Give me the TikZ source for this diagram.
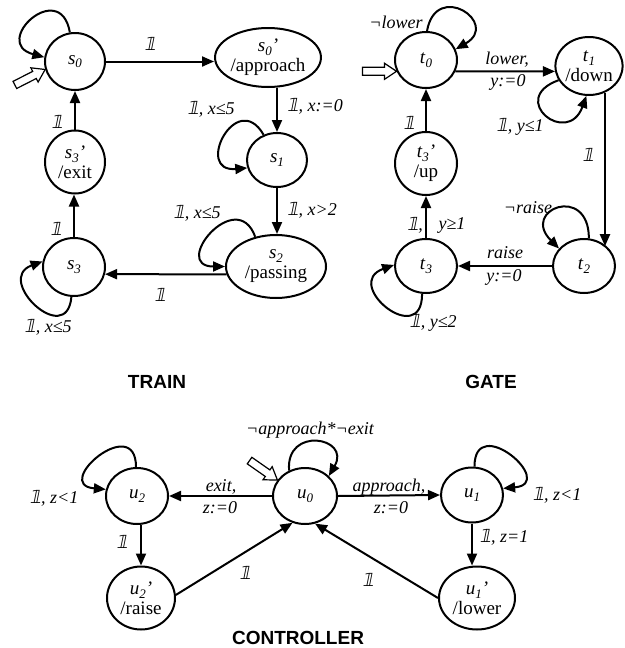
\documentclass[tikz,border=0pt]{standalone}
\usepackage{fontspec}
\setmainfont{Liberation Serif}
\newfontfamily\titlef{Liberation Sans}
\newfontfamily\bbf[FakeSlant=0.2]{DejaVu Sans}
\usetikzlibrary{shapes.geometric,arrows.meta}
\newcommand\one{{\upshape\bbf 𝟙}}
\newcommand\st[2]{\textit{#1}\raisebox{-0.2em}{\fontsize{13}{13}\selectfont\textit{#2}}}
\begin{document}
\begin{tikzpicture}[x=1pt,y=-1pt,
 state/.style={ellipse,draw,line width=2pt,inner sep=0pt,align=center,font=\fontsize{19}{20}\selectfont},
 arr/.style={line width=2pt,-{Triangle[length=12pt,width=10pt]}},
 lbl/.style={font=\itshape\fontsize{18}{18}\selectfont,inner sep=0pt},
 ttl/.style={font=\titlef\bfseries\fontsize{19}{19}\selectfont,inner sep=0pt},
 init/.style={line width=1.2pt,fill=white}]
\useasboundingbox (0,0) rectangle (624,648);
% TRAIN
\node[state,minimum width=60pt,minimum height=57pt] (s0) at (75,61.5) {\st{s}{0}};
\node[state,minimum width=100pt,minimum height=59pt] (s0p) at (268,57.5) {\st{s}{0}\textit{’}\\/approach};
\node[state,minimum width=60pt,minimum height=54pt] (s1) at (277,160) {\st{s}{1}};
\node[state,minimum width=100pt,minimum height=63pt] (s2) at (276,266.5) {\st{s}{2}\\/passing};
\node[state,minimum width=62pt,minimum height=58pt] (s3) at (74,267) {\st{s}{3}};
\node[state,minimum width=60pt,minimum height=63pt] (s3p) at (75,162) {\st{s}{3}\textit{’}\\/exit};
\draw[arr] (s0.east) -- (s0.east -| s0p.west);
\draw[arr] (s1.north |- s0p.south) -- (s1.north);
\draw[arr] (s1.south) -- (s1.south |- s2.north);
\draw[arr] (s2.189) -- (s3.-13);
\draw[arr] (s3.north) -- (s3.north |- s3p.south);
\draw[arr] (s3p.north) -- (s3p.north |- s0.south);
\draw[arr] (s0.100) to[out=100,in=165,distance=56pt] (s0.172);
\draw[arr] (s1.118) to[out=120,in=185,distance=54pt] (s1.195);
\draw[arr] (s2.125) to[out=110,in=180,distance=55pt] (s2.180);
\draw[arr] (s3.265) to[out=265,in=200,distance=52pt] (s3.170);
\draw[init,shift={(s0.195)},rotate=27] (0,0) -- (-12,8) -- (-12,4) -- (-34,4) -- (-34,-4) -- (-12,-4) -- (-12,-8) -- cycle;
\node[lbl] (l1) at (150,44) {\one};
\node[lbl,anchor=west] (l2) at (287,106) {\one, x:=0};
\node[lbl] (l3) at (211,109) {\one, x≤5};
\node[lbl,anchor=west] (l4) at (287,210) {\one, x>2};
\node[lbl] (l5) at (197,213) {\one, x≤5};
\node[lbl] (l6) at (160,295) {\one};
\node[lbl] (l7) at (48,327) {\one, x≤5};
\node[lbl] (l8) at (56,229) {\one};
\node[lbl] (l9) at (57,122) {\one};
\node[ttl] (train) at (157,382) {TRAIN};
% GATE
\node[state,minimum width=62pt,minimum height=56pt] (t0) at (426,60) {\st{t}{0}};
\node[state,minimum width=62pt,minimum height=58pt] (t1) at (589,66) {\st{t}{1}\\/down};
\node[state,minimum width=62pt,minimum height=54pt] (t2) at (584,266) {\st{t}{2}};
\node[state,minimum width=62pt,minimum height=54pt] (t3) at (426,266) {\st{t}{3}};
\node[state,minimum width=62pt,minimum height=63pt] (t3p) at (426,163.5) {\st{t}{3}\textit{’}\\/up};
\draw[arr] (t0.-21) -- (t1.189);
\draw[arr] (t1.-59) -- (t1.-59 |- t2.north east);
\draw[arr] (t2.west) -- (t3.east);
\draw[arr] (t3.north) -- (t3p.south);
\draw[arr] (t3p.north) -- (t0.south);
\draw[arr] (t0.88) to[out=80,in=30,distance=52pt] (t0.20);
\draw[arr] (t1.205) to[out=200,in=250,distance=55pt] (t1.265);
\draw[arr] (t2.80) to[out=90,in=135,distance=55pt] (t2.145);
\draw[arr] (t3.262) to[out=270,in=200,distance=56pt] (t3.178);
\draw[init,shift={(t0.201)}] (0,0) -- (-12,8) -- (-12,4) -- (-34,4) -- (-34,-4) -- (-12,-4) -- (-12,-8) -- cycle;
\node[lbl] (m1) at (396,22) {¬lower};
\node[lbl] (m2) at (507,60) {lower,};
\node[lbl] (m3) at (508,82) {y:=0};
\node[lbl] (m4) at (520,127) {\one, y≤1};
\node[lbl] (m5) at (588,155) {\one};
\node[lbl] (m6) at (528,208) {¬raise};
\node[lbl] (m7) at (505,253) {raise};
\node[lbl] (m8) at (504,277) {y:=0};
\node[lbl] (m9) at (433,323) {\one, y≤2};
\node[lbl] (m10) at (415,225) {\one,};
\node[lbl] (m11) at (452,225) {y≥1};
\node[lbl] (m12) at (409,123) {\one};
\node[ttl] (gate) at (491,382) {GATE};
% CONTROLLER
\node[state,minimum width=64pt,minimum height=56pt] (u0) at (305,496) {\st{u}{0}};
\node[state,minimum width=62pt,minimum height=55pt] (u1) at (472,495) {\st{u}{1}};
\node[state,minimum width=62pt,minimum height=56pt] (u2) at (137,496) {\st{u}{2}};
\node[state,minimum width=68pt,minimum height=63pt] (u2p) at (141,598) {\st{u}{2}\textit{’}\\/raise};
\node[state,minimum width=76pt,minimum height=63pt] (u1p) at (477,598) {\st{u}{1}\textit{’}\\/lower};
\draw[arr] (u0.west) -- (u2.east);
\draw[arr] (u0.east) -- (u1.west);
\draw[arr] (u2p.north |- u2.south) -- (u2p.north);
\draw[arr] (u2p.5) -- (u0.245);
\draw[arr] (u1.south) -- (u1.south |- u1p.north);
\draw[arr] (u1p.west) -- (u0.290);
\draw[arr] (u2.92) to[out=90,in=175,distance=55pt] (u2.168);
\draw[arr] (u1.85) to[out=90,in=5,distance=55pt] (u1.12);
\draw[arr] (u0.122) to[out=95,in=60,distance=45pt] (u0.40);
\draw[init,shift={(u0.150)},rotate=-35] (0,0) -- (-12,8) -- (-12,4) -- (-34,4) -- (-34,-4) -- (-12,-4) -- (-12,-8) -- cycle;
\node[lbl] (c1) at (310,430) {¬approach*¬exit};
\node[lbl] (c2) at (221,487) {exit,};
\node[lbl] (c3) at (220,508) {z:=0};
\node[lbl] (c4) at (389,487) {approach,};
\node[lbl] (c5) at (391,508) {z:=0};
\node[lbl] (c6) at (54,498) {\one, z<1};
\node[lbl] (c7) at (557,495) {\one, z<1};
\node[lbl] (c8) at (122,542) {\one};
\node[lbl] (c9) at (245,573) {\one};
\node[lbl] (c10) at (504,537) {\one, z=1};
\node[lbl] (c11) at (368,580) {\one};
\node[ttl] (ctrl) at (298,638) {CONTROLLER};
\end{tikzpicture}
\end{document}
